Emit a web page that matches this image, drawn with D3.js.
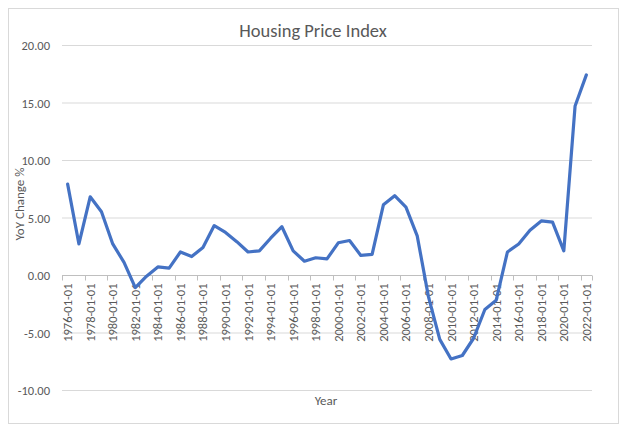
<!DOCTYPE html>
<html>
<head>
<meta charset="utf-8">
<script src="https://d3js.org/d3.v7.min.js"></script>
<style>
    body {
        margin: 0;
        background: #fff;
    }

    svg text {
        font-family: Carlito, "Open Sans", sans-serif;
        fill: #595959;
    }
</style>
</head>

<body></body>
<script>
    const width = 624,
        height = 430;

    // one value per year, 1976 .. 2022
    const years = d3.range(1976, 2023).map(y => `${y}-01-01`);
    const yoy = [7.9, 2.7, 6.8, 5.5, 2.7, 1.1, -1.1, -0.1, 0.7, 0.6,
        2.0, 1.6, 2.4, 4.3, 3.7, 2.9, 2.0, 2.1, 3.2, 4.2,
        2.1, 1.2, 1.5, 1.4, 2.8, 3.0, 1.7, 1.8, 6.1, 6.9,
        5.9, 3.4, -1.9, -5.6, -7.3, -7.0, -5.5, -3.0, -2.2, 2.0,
        2.7, 3.9, 4.7, 4.6, 2.1, 14.7, 17.4];
    const yTicks = [-10, -5, 0, 5, 10, 15, 20];

    const title = "Housing Price Index",
        xTitle = "Year",
        yTitle = "YoY Change %";

    const svg = d3.select("body").append("svg").attr("width", width).attr("height", height);

    svg.append("rect")
        .attr("x", 8.5).attr("y", 8.5)
        .attr("width", 610).attr("height", 415)
        .attr("fill", "#fff")
        .attr("stroke", "#d9d9d9");

    const x = d3.scaleBand()
        .domain(years)
        .range([62, 592]);
    const y = d3.scaleLinear()
        .domain([-10, 20])
        .range([390, 45]);

    // gridlines
    svg.append("g")
        .selectAll("line")
        .data(yTicks)
        .join("line")
        .attr("x1", x.range()[0])
        .attr("x2", x.range()[1])
        .attr("y1", d => y(d) + 0.5)
        .attr("y2", d => y(d) + 0.5)
        .attr("stroke", "#d9d9d9")
        .attr("stroke-width", 1);

    // y axis labels
    const yAxis = svg.append("g")
        .attr("transform", `translate(${x.range()[0]},0.5)`)
        .call(d3.axisLeft(y).tickValues(yTicks).tickFormat(d => d.toFixed(2)).tickSize(0).tickPadding(12));
    yAxis.select(".domain").remove();
    yAxis.selectAll("text").attr("font-size", 12.5).attr("fill", "#595959");

    // category axis crosses at 0
    const y0 = y(0) + 0.5;
    svg.append("line")
        .attr("x1", x.range()[0]).attr("x2", x.range()[1])
        .attr("y1", y0).attr("y2", y0)
        .attr("stroke", "#bfbfbf");

    const boundaries = years.filter((d, i) => i % 2 === 0).map(d => x(d));
    boundaries.push(x.range()[1]);
    svg.append("g")
        .selectAll("line")
        .data(boundaries)
        .join("line")
        .attr("x1", d => Math.round(d) + 0.5)
        .attr("x2", d => Math.round(d) + 0.5)
        .attr("y1", y0)
        .attr("y2", y0 + 5)
        .attr("stroke", "#bfbfbf");

    svg.append("g")
        .selectAll("text")
        .data(years.filter((d, i) => i % 2 === 0))
        .join("text")
        .attr("transform", d => `translate(${x(d) + x.bandwidth() / 2 + 4.5},${y0 + 8}) rotate(-90)`)
        .attr("text-anchor", "end")
        .attr("font-size", 12.5)
        .text(d => d);

    // the series
    const line = d3.line()
        .x((d, i) => x(years[i]) + x.bandwidth() / 2)
        .y(d => y(d));
    svg.append("path")
        .datum(yoy)
        .attr("d", line)
        .attr("fill", "none")
        .attr("stroke", "#4472c4")
        .attr("stroke-width", 3.2)
        .attr("stroke-linejoin", "round")
        .attr("stroke-linecap", "round");

    // titles
    svg.append("text")
        .attr("x", 313)
        .attr("y", 37)
        .attr("text-anchor", "middle")
        .attr("font-size", 18.5)
        .text(title);
    svg.append("text")
        .attr("x", 326)
        .attr("y", 405)
        .attr("text-anchor", "middle")
        .attr("font-size", 13)
        .text(xTitle);
    svg.append("text")
        .attr("transform", "translate(24,204) rotate(-90)")
        .attr("text-anchor", "middle")
        .attr("font-size", 13)
        .text(yTitle);
</script>

</html>
